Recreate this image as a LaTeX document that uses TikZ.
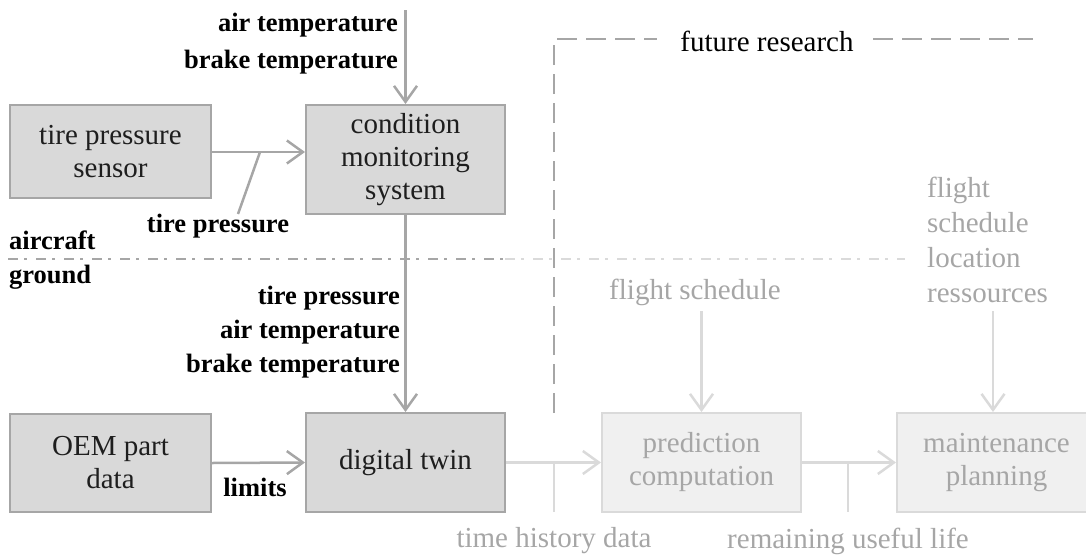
\documentclass[tikz,border=0pt]{standalone}
\usepackage{fontspec}
\setmainfont{Liberation Serif}
\usetikzlibrary{arrows.meta}
\definecolor{boxfill}{HTML}{D9D9D9}
\definecolor{boxline}{HTML}{A6A6A6}
\definecolor{lightfill}{HTML}{F0F0F0}
\definecolor{lightline}{HTML}{DADADA}
\definecolor{lighttext}{HTML}{A6A6A6}
\definecolor{darktext}{HTML}{1E1E1E}
\tikzset{
  darkbox/.style={draw=boxline, fill=boxfill, line width=2pt, align=center, text=darktext,
    font=\fontsize{29}{33}\selectfont, inner sep=0pt},
  lightbox/.style={draw=lightline, fill=lightfill, line width=2pt, align=center, text=lighttext,
    font=\fontsize{29}{33}\selectfont, inner sep=0pt},
  boldlbl/.style={font=\fontsize{26.5}{35}\selectfont\bfseries, text=black, inner sep=0pt},
  lightlbl/.style={font=\fontsize{29}{35}\selectfont, text=lighttext, inner sep=0pt},
  tip/.style={-{Straight Barb[length=16pt,width=23pt,line width=2.5pt]}},
  conn/.style={draw=boxline, line width=2.5pt, tip},
  lconn/.style={draw=lightline, line width=2.5pt, tip},
  tick/.style={draw=boxline, line width=2.5pt},
  ltick/.style={draw=lightline, line width=2.5pt},
  frdash/.style={draw=boxline, line width=2pt, dash pattern=on 20pt off 9pt},
}
\begin{document}
\begin{tikzpicture}[x=1pt,y=-1pt]
\useasboundingbox (0,0) rectangle (1086,554);

% aircraft / ground separation
\coordinate (sepA) at (8,259);
\coordinate (sepB) at (505,259);
\coordinate (sepC) at (905,259);
\draw[boxline, line width=2pt, dash pattern=on 10pt off 6pt on 3pt off 9pt] (sepA) -- (sepB);
\draw[lightline, line width=2pt, dash pattern=on 10pt off 6pt on 3pt off 9pt] (sepB) -- (sepC);
\node[boldlbl, anchor=west] (aircraft) at (9,240) {aircraft};
\node[boldlbl, anchor=west] (ground) at (9,277) {ground};

% future research frame
\coordinate (frA) at (554,413);
\coordinate (frB) at (554,39);
\coordinate (frC) at (657,39);
\coordinate (frD) at (873,39);
\coordinate (frE) at (1033,39);
\draw[frdash] (frA) -- (frB) -- (frC);
\draw[frdash] (frD) -- (frE);
\node[font=\fontsize{29}{35}\selectfont, text=black, inner sep=0pt] (fr) at (767,41) {future research};

% boxes
\node[darkbox, minimum width=201pt, minimum height=93pt] (sensor) at (110.5,151.5) {tire pressure\\sensor};
\node[darkbox, minimum width=199pt, minimum height=109pt] (cms) at (405.5,159.5) {condition\\monitoring\\system};
\node[darkbox, minimum width=201pt, minimum height=98pt] (oem) at (110.5,463) {OEM part\\data};
\node[darkbox, minimum width=199pt, minimum height=99pt] (dt) at (405.5,462.5) {digital twin};
\node[lightbox, minimum width=199pt, minimum height=99pt] (pc) at (701.5,462.5) {prediction\\computation};
\node[lightbox, minimum width=199pt, minimum height=99pt] (mp) at (996.5,462.5) {maintenance\\planning};

% inputs to condition monitoring system
\coordinate (topin) at (405.5,10);
\draw[conn] (topin) -- (cms.north);
\node[boldlbl, anchor=east, align=right, font=\fontsize{26.5}{37}\selectfont\bfseries] (cmslbl) at (398,44) {air temperature\\brake temperature};
\draw[conn] (sensor.east |- 0,152) -- (cms.west |- 0,152);
\node[boldlbl] (tplbl) at (218,226) {tire pressure};
\coordinate (tpA) at (260,152);
\coordinate (tpB) at (238,214);
\draw[tick] (tpA) -- (tpB);

% condition monitoring -> digital twin
\draw[conn, line width=3pt] (cms.south) -- (dt.north);
\node[boldlbl, anchor=east, align=right, font=\fontsize{26.5}{34}\selectfont\bfseries] (dtlbl) at (400,332) {tire pressure\\air temperature\\brake temperature};

% OEM -> digital twin
\draw[conn] (oem.east) -- (dt.west);
\node[boldlbl] (limits) at (255,487) {limits};

% digital twin -> prediction -> maintenance
\draw[lconn] (dt.east) -- (pc.west);
\coordinate (thA) at (554,462);
\coordinate (thB) at (554,512);
\draw[ltick] (thA) -- (thB);
\node[lightlbl] (thd) at (554,541) {time history data};
\draw[lconn] (pc.east) -- (mp.west);
\coordinate (ruA) at (848,462);
\coordinate (ruB) at (848,512);
\draw[ltick] (ruA) -- (ruB);
\node[lightlbl] (rul) at (848,541) {remaining useful life};

% external inputs
\node[lightlbl] (fs) at (695,292) {flight schedule};
\coordinate (fsA) at (701.5,311);
\draw[lconn] (fsA) -- (pc.north);
\node[lightlbl, anchor=west, align=left] (mpin) at (927,240) {flight\\schedule\\location\\ressources};
\coordinate (mpA) at (993,311);
\draw[lconn] (mpA) -- (mpA |- mp.north);
\end{tikzpicture}
\end{document}
